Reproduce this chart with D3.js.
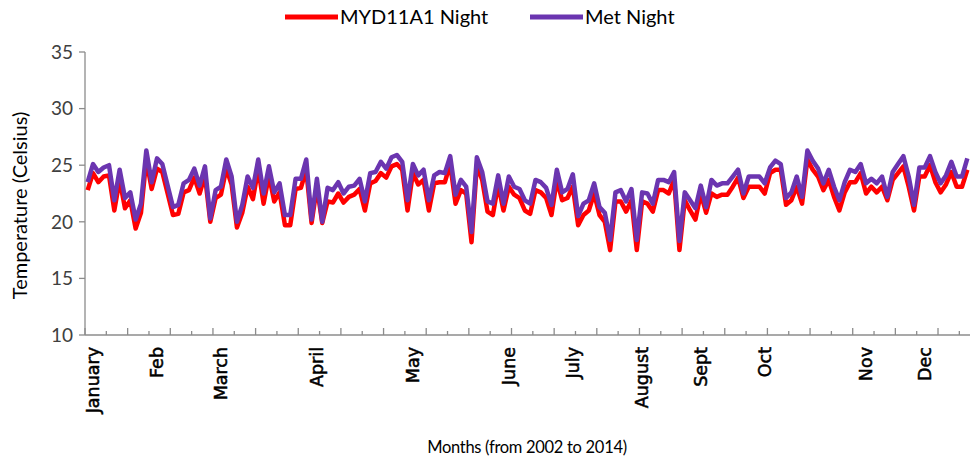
<!DOCTYPE html>
<html>
<head>
<meta charset="utf-8">
<script src="https://d3js.org/d3.v7.min.js"></script>
<style>
  body { margin: 0; background: #fff; }
  svg { display: block; }
  .axis-line { stroke: #8c8c8c; stroke-width: 1.3; fill: none; }
  .ylab { font-family: Lato, "Open Sans", sans-serif; font-size: 19px; fill: #404040; }
  .month { font-family: "DejaVu Sans", Verdana, sans-serif; font-size: 17.5px; fill: #000; stroke: #000; stroke-width: 0.5px; }
  .ytitle { font-family: Lato, "Open Sans", sans-serif; font-size: 20px; fill: #000; }
  .xtitle { font-family: Lato, "Open Sans", sans-serif; font-size: 16.5px; fill: #000; letter-spacing: -0.3px; }
  .legend { font-family: Lato, "Open Sans", sans-serif; font-size: 20px; fill: #000; }
</style>
</head>
<body>
<div id="chart"></div>
<script>
var SERIES_NAMES = ['MYD11A1 Night', 'Met Night'];
var SERIES_COLORS = ['#ff0000', '#6b35b0'];

var MYD_NIGHT = [
  22.8, 24.3, 23.5, 24.0, 24.1, 21.0, 23.7, 21.2, 21.9, 19.4, 20.8, 25.5, 22.9, 24.7, 24.4, 22.5,
  20.6, 20.7, 22.6, 22.8, 23.9, 22.5, 24.1, 20.0, 22.1, 22.4, 24.7, 23.3, 19.5, 20.8, 23.1, 22.0,
  24.7, 21.6, 24.1, 21.8, 22.6, 19.7, 19.7, 22.9, 23.0, 24.6, 19.9, 23.1, 19.9, 21.8, 21.7, 22.5,
  21.7, 22.2, 22.4, 22.9, 21.0, 23.4, 23.6, 24.3,
  23.9, 24.9, 25.1, 24.6, 21.0, 24.3, 23.3, 23.7, 21.0, 23.4, 23.5, 23.5, 25.1, 21.6, 22.8, 22.5,
  18.2, 25.0, 23.7, 20.9, 20.6, 23.3, 21.0, 23.1, 22.4, 22.1, 21.0, 20.7, 22.8, 22.6, 22.1, 20.6,
  23.7, 21.9, 22.1, 23.1, 19.7, 20.6, 21.0, 22.5, 20.6, 20.0, 17.5, 21.8, 21.8, 20.9, 21.9, 17.5,
  21.8, 21.6, 20.9, 22.8, 22.8, 22.5, 23.7,
  17.5, 21.9, 21.0, 20.2, 22.5, 20.8, 22.5, 22.2, 22.4, 22.4, 23.1, 23.9, 22.1, 23.1, 23.1, 23.1,
  22.5, 24.3, 24.6, 24.6, 21.5, 21.9, 23.1, 21.6, 25.5, 24.6, 24.0, 22.8, 23.7, 22.2, 21.0, 22.6,
  23.5, 23.5, 24.3, 22.5, 23.1, 22.6, 23.1, 21.9, 23.7, 24.3, 24.9, 23.1, 21.0, 24.0, 24.0, 25.0,
  23.5, 22.6, 23.3, 24.4, 23.1, 23.1, 24.6
];

var MET_NIGHT = [
  23.5, 25.1, 24.4, 24.8, 25.0, 21.9, 24.6, 22.1, 22.6, 20.2, 21.6, 26.3, 23.5, 25.6, 25.1, 23.2,
  21.3, 21.5, 23.4, 23.7, 24.7, 23.2, 24.9, 20.3, 22.8, 23.1, 25.5, 24.0, 20.0, 21.5, 24.0, 23.0,
  25.5, 22.5, 24.9, 22.6, 23.4, 20.6, 20.6, 23.8, 23.8, 25.5, 20.2, 23.8, 20.0, 23.0, 22.8, 23.5,
  22.5, 23.1, 23.2, 23.8, 21.8, 24.3, 24.4, 25.3,
  24.7, 25.7, 25.9, 25.3, 21.9, 25.1, 24.1, 24.6, 21.9, 24.1, 24.4, 24.3, 25.8, 22.4, 23.7, 23.1,
  19.1, 25.7, 24.4, 21.8, 21.6, 24.1, 21.6, 24.0, 23.1, 22.9, 21.9, 21.6, 23.7, 23.5, 23.0, 21.5,
  24.6, 22.6, 22.9, 24.2, 20.5, 21.6, 21.9, 23.4, 21.3, 20.8, 18.4, 22.6, 22.8, 21.8, 22.9, 18.4,
  22.6, 22.5, 21.6, 23.7, 23.7, 23.5, 24.4,
  18.3, 22.6, 21.9, 21.2, 23.2, 21.3, 23.7, 23.2, 23.4, 23.4, 24.0, 24.6, 22.5, 24.0, 24.0, 24.0,
  23.4, 24.8, 25.4, 25.1, 22.1, 22.6, 24.0, 22.2, 26.3, 25.4, 24.7, 23.4, 24.6, 23.1, 21.9, 23.5,
  24.6, 24.4, 25.1, 23.4, 23.8, 23.4, 24.0, 22.2, 24.4, 25.1, 25.8, 24.0, 21.5, 24.8, 24.8, 25.8,
  24.4, 23.4, 24.1, 25.3, 24.0, 24.0, 25.6
];

// month label -> category index where Excel printed it
var MONTHS = ['January', 'Feb', 'March', 'April', 'May', 'June', 'July', 'August', 'Sept', 'Oct', 'Nov', 'Dec'];
var MONTH_AT = [1, 13, 25, 43, 61, 79, 91, 104, 115, 127, 146, 157];

var Y_TICKS = [10, 15, 20, 25, 30, 35];
var Y_TITLE = 'Temperature  (Celsius)';
var X_TITLE = 'Months (from 2002 to 2014)';

var W = 973, H = 465;
var padL = 85, padR = 970, padT = 52, padB = 335;

var svg = d3.select('#chart').append('svg')
    .attr('width', W)
    .attr('height', H);

var x = d3.scaleBand()
    .domain(d3.range(MET_NIGHT.length))
    .range([padL, padR]);

var y = d3.scaleLinear()
    .domain([10, 35])
    .range([padB, padT]);

var cx = function(i) { return x(i) + x.bandwidth() / 2; };

// y axis
svg.append('line').attr('class', 'axis-line')
    .attr('x1', padL).attr('x2', padL)
    .attr('y1', y(35)).attr('y2', y(10));

svg.selectAll('.ytick').data(Y_TICKS).enter()
    .append('line').attr('class', 'axis-line ytick')
    .attr('x1', padL - 6).attr('x2', padL)
    .attr('y1', function(d) { return y(d); })
    .attr('y2', function(d) { return y(d); });

svg.selectAll('.ylab').data(Y_TICKS).enter()
    .append('text').attr('class', 'ylab')
    .attr('x', padL - 12)
    .attr('y', function(d) { return y(d); })
    .attr('dy', '0.36em')
    .attr('text-anchor', 'end')
    .text(function(d) { return d; });

// x axis, tick every 4 categories, longer every 8
var xticks = d3.range(0, MET_NIGHT.length + 1, 4);
svg.append('line').attr('class', 'axis-line')
    .attr('x1', padL).attr('x2', padR)
    .attr('y1', padB).attr('y2', padB);

svg.selectAll('.xtick').data(xticks).enter()
    .append('line').attr('class', 'axis-line xtick')
    .attr('x1', function(d) { return d < MET_NIGHT.length ? x(d) : padR; })
    .attr('x2', function(d) { return d < MET_NIGHT.length ? x(d) : padR; })
    .attr('y1', padB)
    .attr('y2', function(d) { return padB - (d % 8 == 0 ? 7 : 4); });

svg.selectAll('.month').data(MONTHS).enter()
    .append('text').attr('class', 'month')
    .attr('transform', function(d, i) {
        return 'translate(' + cx(MONTH_AT[i]) + ',' + (padB + 12) + ') rotate(-90)';
    })
    .attr('text-anchor', 'end')
    .attr('dy', '0.36em')
    .text(function(d) { return d; });

// lines
var line = d3.line()
    .x(function(d, i) { return cx(i); })
    .y(function(d) { return y(d); });

[MYD_NIGHT, MET_NIGHT].forEach(function(s, k) {
    svg.append('path')
        .attr('d', line(s))
        .attr('fill', 'none')
        .attr('stroke', SERIES_COLORS[k])
        .attr('stroke-width', 4.5)
        .attr('stroke-linejoin', 'round');
});

// titles
svg.append('text').attr('class', 'ytitle')
    .attr('transform', 'translate(27,' + ((padT + padB) / 2 + 12) + ') rotate(-90)')
    .attr('text-anchor', 'middle')
    .text(Y_TITLE);

svg.append('text').attr('class', 'xtitle')
    .attr('x', 527).attr('y', 453)
    .attr('text-anchor', 'middle')
    .text(X_TITLE);

// legend
var legendX = [285, 530];
SERIES_NAMES.forEach(function(name, k) {
    svg.append('line')
        .attr('x1', legendX[k]).attr('x2', legendX[k] + 53)
        .attr('y1', 17).attr('y2', 17)
        .attr('stroke', SERIES_COLORS[k])
        .attr('stroke-width', 5);
    svg.append('text').attr('class', 'legend')
        .attr('x', legendX[k] + 55).attr('y', 24)
        .text(name);
});
</script>
</body>
</html>
